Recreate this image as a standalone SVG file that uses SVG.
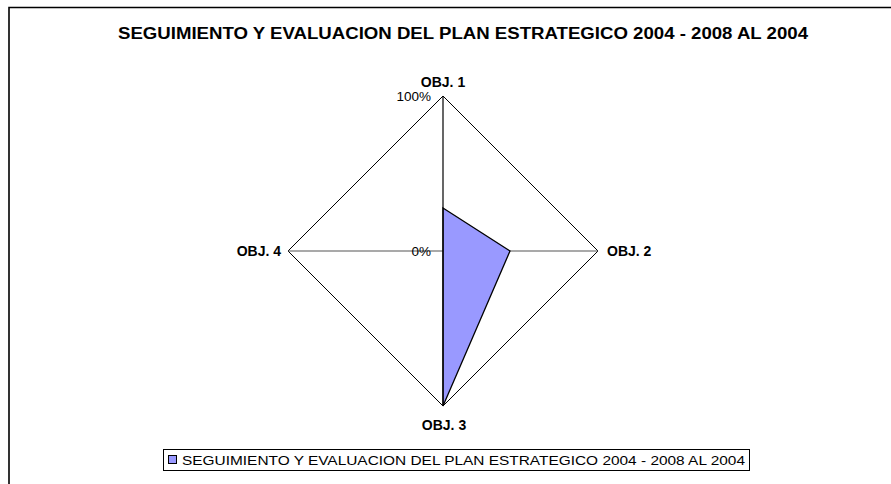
<svg xmlns="http://www.w3.org/2000/svg" width="891" height="484" viewBox="0 0 891 484">
<style>
.lbl{font-family:"Liberation Sans",Arial,sans-serif;font-size:14px;font-weight:bold;fill:#000}
.tick{font-family:"Liberation Sans",Arial,sans-serif;font-size:13.5px;fill:#000}
.title{font-family:"Liberation Sans",Arial,sans-serif;font-size:16px;font-weight:bold;fill:#000}
.leg{font-family:"Liberation Sans",Arial,sans-serif;font-size:13px;fill:#000}
</style>
<rect x="0" y="0" width="891" height="484" fill="#fff"/>
<g id="frame">
<path d="M9,490 V7.5 H900" fill="none" stroke="#000" stroke-width="1.6"/>
</g>
<g id="title">
<text class="title" x="463" y="39" text-anchor="middle" textLength="690" lengthAdjust="spacingAndGlyphs">SEGUIMIENTO Y EVALUACION DEL PLAN ESTRATEGICO 2004 - 2008 AL 2004</text>
</g>
<g id="grid">
<polygon points="443,96 598,251 443,406 288,251" fill="#fff" stroke="#000" stroke-width="1"/>
<line x1="288" y1="251" x2="598" y2="251" stroke="#555" stroke-width="1.2"/>
</g>
<g id="series">
<polygon points="443,208 510,251 443,406 443,251" fill="#9999FF" stroke="#000" stroke-width="1.3"/>
</g>
<g id="axis">
<line x1="443" y1="96" x2="443" y2="406" stroke="#000" stroke-width="1.2"/>
<text class="tick" x="431" y="101" text-anchor="end">100%</text>
<text class="tick" x="431" y="256" text-anchor="end">0%</text>
</g>
<g id="obj1"><text class="lbl" x="443" y="87" text-anchor="middle">OBJ. 1</text></g>
<g id="obj2"><text class="lbl" x="607" y="256">OBJ. 2</text></g>
<g id="obj3"><text class="lbl" x="444" y="430" text-anchor="middle">OBJ. 3</text></g>
<g id="obj4"><text class="lbl" x="281" y="256" text-anchor="end">OBJ. 4</text></g>
<g id="legend">
<rect x="163.5" y="449.5" width="586" height="21" fill="#fff" stroke="#000" stroke-width="1"/>
<rect x="168.5" y="455.5" width="8" height="8" fill="#9999FF" stroke="#000" stroke-width="1"/>
<text class="leg" x="182" y="465" textLength="563" lengthAdjust="spacingAndGlyphs">SEGUIMIENTO Y EVALUACION DEL PLAN ESTRATEGICO 2004 - 2008 AL 2004</text>
</g>
</svg>
